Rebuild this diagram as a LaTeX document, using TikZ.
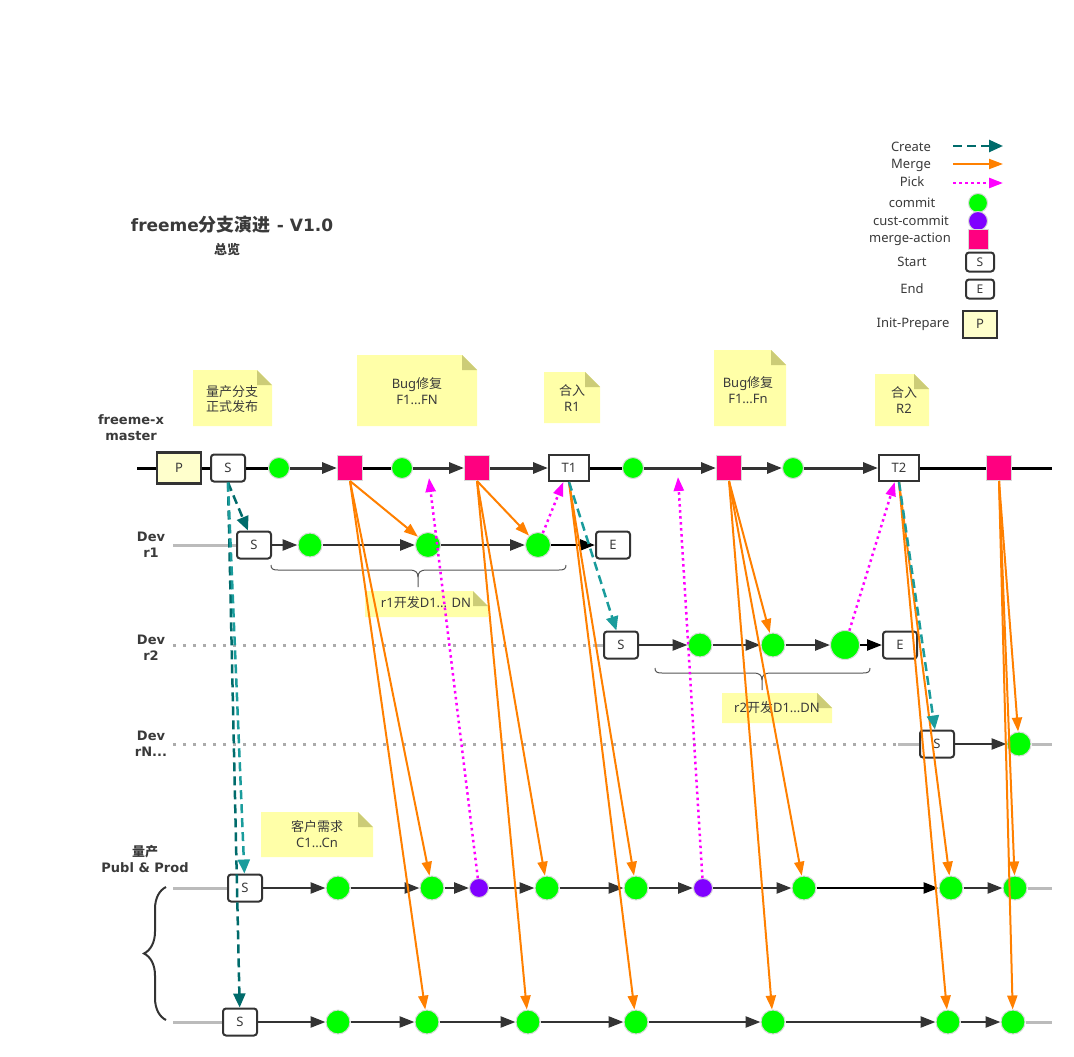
\documentclass[tikz,border=0pt]{standalone}
\usepackage{fontspec}
\setmainfont{Noto Sans}
\newfontfamily\cjk{Noto Sans CJK SC}
\newfontfamily\dvs{DejaVu Sans}
\usetikzlibrary{arrows.meta,decorations.pathreplacing}
\definecolor{cgreen}{HTML}{00FF00}
\definecolor{cpurple}{HTML}{8000FF}
\definecolor{cpink}{HTML}{FF0080}
\definecolor{corange}{HTML}{FF8000}
\definecolor{cmag}{HTML}{FF00FF}
\definecolor{ctealdark}{HTML}{006B6B}
\definecolor{cteallight}{HTML}{1A9C9C}
\definecolor{cdark}{HTML}{333333}
\definecolor{ctext}{HTML}{3A3A3A}
\definecolor{cnote}{HTML}{FFFFA8}
\definecolor{cfold}{HTML}{CCCC77}
\definecolor{cpale}{HTML}{FFFFCC}
\definecolor{cgrayline}{HTML}{BBBBBB}
\definecolor{cbrace}{HTML}{555555}
\newcommand\stickynote[4]{%
  \fill[cnote] (#1,#2) -- (#3-15,#2) -- (#3,#2+15) -- (#3,#4) -- (#1,#4) -- cycle;
  \fill[cfold] (#3-15,#2) -- (#3,#2+15) -- (#3-15,#2+15) -- cycle;}
\tikzset{
  commit/.style={circle, fill=cgreen, draw=black!15, line width=1pt, minimum size=24pt, inner sep=0pt},
  mcommit/.style={commit, minimum size=21pt},
  bigcommit/.style={commit, minimum size=29pt},
  cust/.style={circle, fill=cpurple, draw=black!15, line width=1pt, minimum size=19pt, inner sep=0pt},
  mergesq/.style={rectangle, fill=cpink, draw=black!15, line width=1pt, minimum size=25pt, inner sep=0pt},
  sbox/.style={rectangle, rounded corners=3pt, draw=cdark, line width=2pt, fill=white, minimum width=34pt, minimum height=27pt, inner sep=0pt, font=\fontsize{13}{15}\selectfont, text=ctext},
  tbox/.style={sbox, rounded corners=0pt, minimum width=40pt, minimum height=26pt},
  pbox/.style={rectangle, draw=cdark, line width=2.5pt, fill=cpale, minimum width=44pt, minimum height=31pt, inner sep=0pt, font=\fontsize{13}{15}\selectfont, text=ctext},
  mline/.style={draw=black, line width=3pt},
  marr/.style={draw=black, line width=3pt, -{Triangle[length=15pt,width=11pt]}, cdark},
  flowarr/.style={draw=cdark, line width=2.5pt, -{Triangle[length=15pt,width=11pt]}},
  grayline/.style={draw=cgrayline, line width=3pt},
  graydot/.style={draw=black!33, line width=3pt, dash pattern=on 3pt off 7pt},
  mergearr/.style={draw=corange, line width=2pt, -{Triangle[length=14pt,width=10pt]}},
  createarr/.style={draw=ctealdark, line width=2.5pt, dash pattern=on 9pt off 5pt, -{Triangle[length=14pt,width=12pt]}},
  pickarr/.style={draw=cmag, line width=2.5pt, dash pattern=on 2.5pt off 3.5pt, -{Triangle[length=14pt,width=10pt]}},
  notetext/.style={align=center, text=ctext, font=\fontsize{13}{15.5}\selectfont, inner sep=0pt},
  lab/.style={align=center, text=ctext, font=\dvs\bfseries\fontsize{13}{16}\selectfont, inner sep=0pt},
  legtext/.style={text=ctext, font=\fontsize{13}{15}\selectfont, inner sep=0pt},
  bracepath/.style={draw=cbrace, line width=1pt},
}
\begin{document}
\begin{tikzpicture}[x=1pt,y=-1pt]
\useasboundingbox (0,0) rectangle (1074,1057);
\fill[white] (0,0) rectangle (1074,1057);

% ---------- title ----------
\node[text=ctext, inner sep=0pt] (title) at (232,225) {{\dvs\bfseries\fontsize{17}{20}\selectfont freeme}{\cjk\bfseries\fontsize{18}{20}\selectfont 分支演进}{\dvs\bfseries\fontsize{17}{20}\selectfont\ - V1.0}};
\node[text=ctext, inner sep=0pt] (subtitle) at (227,250) {\cjk\bfseries\fontsize{13}{15}\selectfont 总览};

% ---------- legend ----------
\node[legtext] (lt1) at (911,147) {Create};
\node[legtext] (lt2) at (911,165) {Merge};
\node[legtext] (lt3) at (912,182) {Pick};
\node[legtext] (lt4) at (912,203) {commit};
\node[legtext] (lt5) at (911,221) {cust-commit};
\node[legtext] (lt6) at (910,239) {merge-action};
\node[legtext] (lt7) at (912,262) {Start};
\node[legtext] (lt8) at (912,289) {End};
\node[legtext] (lt9) at (913,324) {Init-Prepare};
\coordinate (lc1a) at (953,146); \coordinate (lc1b) at (1003,146);
\coordinate (lc2a) at (953,164); \coordinate (lc2b) at (1003,164);
\coordinate (lc3a) at (953,183); \coordinate (lc3b) at (1003,183);
\draw[createarr] (lc1a) -- (lc1b);
\draw[mergearr] (lc2a) -- (lc2b);
\draw[pickarr] (lc3a) -- (lc3b);
\node[commit, minimum size=19pt] (lg1) at (978,203) {};
\node[cust] (lg2) at (978,221) {};
\node[mergesq, minimum size=20pt] (lg3) at (978,239) {};
\node[sbox, minimum width=28pt, minimum height=19pt, font=\fontsize{12}{14}\selectfont] (lg4) at (980,262) {S};
\node[sbox, minimum width=28pt, minimum height=19pt, font=\fontsize{12}{14}\selectfont] (lg5) at (980,289) {E};
\node[pbox, minimum width=34pt, minimum height=27pt, line width=2pt] (lg6) at (980,324) {P};

% ---------- sticky notes ----------
\stickynote{193}{370}{272}{426}
\node[notetext] (n1) at (232,399) {{\cjk 量产分支}\\{\cjk 正式发布}};
\stickynote{357}{355}{477}{426}
\node[notetext] (n2) at (417,391) {Bug{\cjk 修复}\\F1...FN};
\stickynote{544}{372}{600}{423}
\node[notetext] (n3) at (572,398) {{\cjk 合入}\\R1};
\stickynote{714}{350}{786}{426}
\node[notetext] (n4) at (748,390) {Bug{\cjk 修复}\\F1...Fn};
\stickynote{875}{374}{929}{426}
\node[notetext] (n5) at (904,400) {{\cjk 合入}\\R2};
\stickynote{261}{812}{373}{857}
\node[notetext] (n6) at (317,834) {{\cjk 客户需求}\\C1...Cn};
\stickynote{365}{591}{488}{617}
\node[notetext] (n7) at (426,603) {r1{\cjk 开发}D1... DN};
\stickynote{722}{693}{832}{723}
\node[notetext] (n8) at (777,708) {r2{\cjk 开发}D1...DN};

% ---------- row labels ----------
\node[lab] (l1) at (131,428) {freeme-x\\master};
\node[lab] (l2) at (151,545) {Dev\\r1};
\node[lab] (l3) at (151,648) {Dev\\r2};
\node[lab] (l4) at (151,744) {Dev\\rN...};
\node[lab] (l5) at (145,859) {{\cjk\bfseries 量产}\\Publ \& Prod};

% ---------- master ----------
\coordinate (mstart) at (137,468);
\coordinate (mend) at (1052,468);
\node[pbox] (mP) at (179,468) {P};
\node[sbox] (mS) at (228,468) {S};
\node[mcommit] (mc1) at (279,468) {};
\node[mergesq] (mM1) at (350,468) {};
\node[mcommit] (mc2) at (402,468) {};
\node[mergesq] (mM2) at (477,468) {};
\node[tbox] (mT1) at (569,468) {T1};
\node[mcommit] (mc3) at (633,468) {};
\node[mergesq] (mM3) at (729,468) {};
\node[mcommit] (mc4) at (793,468) {};
\node[tbox] (mT2) at (899,468) {T2};
\node[mergesq] (mM4) at (999,468) {};
\draw[mline] (mstart) -- (mP);
\draw[mline] (mP) -- (mS);
\draw[mline] (mS) -- (mc1);
\draw[marr] (mc1) -- (mM1);
\draw[mline] (mM1) -- (mc2);
\draw[marr] (mc2) -- (mM2);
\draw[marr] (mM2) -- (mT1);
\draw[mline] (mT1) -- (mc3);
\draw[marr] (mc3) -- (mM3);
\draw[marr] (mM3) -- (mc4);
\draw[marr] (mc4) -- (mT2);
\draw[mline] (mT2) -- (mM4);
\draw[mline] (mM4) -- (mend);

% ---------- dev r1 ----------
\coordinate (r1start) at (173,545);
\node[sbox] (r1S) at (254,545) {S};
\node[commit] (r1c1) at (310,545) {};
\node[commit, minimum size=25pt] (r1c2) at (428,545) {};
\node[commit, minimum size=25pt] (r1c3) at (538,545) {};
\node[sbox] (r1E) at (613,545) {E};
\draw[grayline] (r1start) -- (r1S);
\draw[flowarr] (r1S) -- (r1c1);
\draw[flowarr] (r1c1) -- (r1c2);
\draw[flowarr] (r1c2) -- (r1c3);
\draw[flowarr, draw=black] (r1c3) -- (r1E);
\draw[bracepath] (271,565) .. controls (271,569) and (273,570) .. (278,570) -- (410,570) .. controls (415,570) and (418,572) .. (418,577) -- (418,587);
\draw[bracepath] (418,577) .. controls (418,572) and (421,570) .. (426,570) -- (559,570) .. controls (564,570) and (566,569) .. (566,565);

% ---------- dev r2 ----------
\coordinate (r2start) at (173,645);
\coordinate (r2mid) at (593,645);
\node[sbox] (r2S) at (621,645) {S};
\node[commit] (r2c1) at (700,645) {};
\node[commit] (r2c2) at (773,645) {};
\node[bigcommit] (r2c3) at (845,645) {};
\node[sbox] (r2E) at (900,645) {E};
\draw[graydot] (r2start) -- (r2mid);
\draw[grayline] (r2mid) -- (r2S);
\draw[flowarr] (r2S) -- (r2c1);
\draw[flowarr] (r2c1) -- (r2c2);
\draw[flowarr] (r2c2) -- (r2c3);
\draw[flowarr, draw=black] (r2c3) -- (r2E);
\draw[bracepath] (655,668) .. controls (655,672) and (657,673) .. (662,673) -- (754,673) .. controls (759,673) and (762,675) .. (762,680) -- (762,690);
\draw[bracepath] (762,680) .. controls (762,675) and (765,673) .. (770,673) -- (863,673) .. controls (868,673) and (870,672) .. (870,668);

% ---------- dev rN ----------
\coordinate (rNstart) at (173,744);
\coordinate (rNmid) at (898,744);
\coordinate (rNend) at (1052,744);
\node[sbox] (rNS) at (937,744) {S};
\node[commit] (rNc1) at (1019,744) {};
\draw[graydot] (rNstart) -- (rNmid);
\draw[grayline] (rNmid) -- (rNS);
\draw[flowarr] (rNS) -- (rNc1);
\draw[grayline] (rNc1) -- (rNend);

% ---------- prod 1 ----------
\coordinate (p1start) at (173,888);
\coordinate (p1end) at (1052,888);
\node[sbox] (p1S) at (245,888) {S};
\node[commit] (p1c1) at (338,888) {};
\node[commit] (p1c2) at (432,888) {};
\node[cust] (p1x1) at (479,888) {};
\node[commit] (p1c3) at (547,888) {};
\node[commit] (p1c4) at (636,888) {};
\node[cust] (p1x2) at (703,888) {};
\node[commit] (p1c5) at (804,888) {};
\node[commit] (p1c6) at (951,888) {};
\node[commit] (p1c7) at (1015,888) {};
\draw[grayline] (p1start) -- (p1S);
\draw[flowarr] (p1S) -- (p1c1);
\draw[flowarr] (p1c1) -- (p1c2);
\draw[flowarr] (p1c2) -- (p1x1);
\draw[flowarr] (p1x1) -- (p1c3);
\draw[flowarr] (p1c3) -- (p1c4);
\draw[flowarr] (p1c4) -- (p1x2);
\draw[flowarr] (p1x2) -- (p1c5);
\draw[flowarr, draw=black] (p1c5) -- (p1c6);
\draw[flowarr] (p1c6) -- (p1c7);
\draw[grayline] (p1c7) -- (p1end);

% ---------- prod 2 ----------
\coordinate (p2start) at (173,1022);
\coordinate (p2end) at (1052,1022);
\node[sbox] (p2S) at (240,1022) {S};
\node[commit] (p2c1) at (338,1022) {};
\node[commit] (p2c2) at (427,1022) {};
\node[commit] (p2c3) at (528,1022) {};
\node[commit] (p2c4) at (636,1022) {};
\node[commit] (p2c5) at (773,1022) {};
\node[commit] (p2c6) at (948,1022) {};
\node[commit] (p2c7) at (1013,1022) {};
\draw[grayline] (p2start) -- (p2S);
\draw[flowarr] (p2S) -- (p2c1);
\draw[flowarr] (p2c1) -- (p2c2);
\draw[flowarr] (p2c2) -- (p2c3);
\draw[flowarr] (p2c3) -- (p2c4);
\draw[flowarr] (p2c4) -- (p2c5);
\draw[flowarr] (p2c5) -- (p2c6);
\draw[flowarr] (p2c6) -- (p2c7);
\draw[grayline] (p2c7) -- (p2end);

% big left brace
\draw[draw=cdark, line width=2pt, decorate, decoration={brace, amplitude=22pt}] (166,1020) -- (166,887);

% ---------- merges ----------
\draw[mergearr] (mM1.south) -- (r1c2);
\draw[mergearr] (mM1.south) -- (p1c2);
\draw[mergearr] (mM1.south) -- (p2c2);
\draw[mergearr] (mM2.south) -- (r1c3);
\draw[mergearr] (mM2.south) -- (p1c3);
\draw[mergearr] (mM2.south) -- (p2c3);
\draw[mergearr] (mT1.south) -- (p1c4);
\draw[mergearr] (mT1.south) -- (p2c4);
\draw[mergearr] (mM3.south) -- (r2c2);
\draw[mergearr] (mM3.south) -- (p1c5);
\draw[mergearr] (mM3.south) -- (p2c5);
\draw[mergearr] (mT2.south) -- (p1c6);
\draw[mergearr] (mT2.south) -- (p2c6);
\draw[mergearr] (mM4.south) -- (rNc1);
\draw[mergearr] (mM4.south) -- (p1c7);
\draw[mergearr] (mM4.south) -- (p2c7);

% ---------- creates ----------
\draw[createarr] (mS.south) -- (r1S);
\draw[createarr, draw=ctealdark] (mS.south) -- (p2S);
\draw[createarr, draw=cteallight] (mS.south) -- (p1S);
\draw[createarr, draw=cteallight] (mT1.south) -- (r2S);
\draw[createarr, draw=cteallight] (mT2.south) -- (rNS);

% ---------- picks ----------
\coordinate (pk1) at (429,478);
\coordinate (pk2) at (678,477);
\draw[pickarr] (p1x1) -- (pk1);
\draw[pickarr] (r1c3) -- (mT1);
\draw[pickarr] (p1x2) -- (pk2);
\draw[pickarr] (r2c3) -- (mT2);
\end{tikzpicture}
\end{document}
